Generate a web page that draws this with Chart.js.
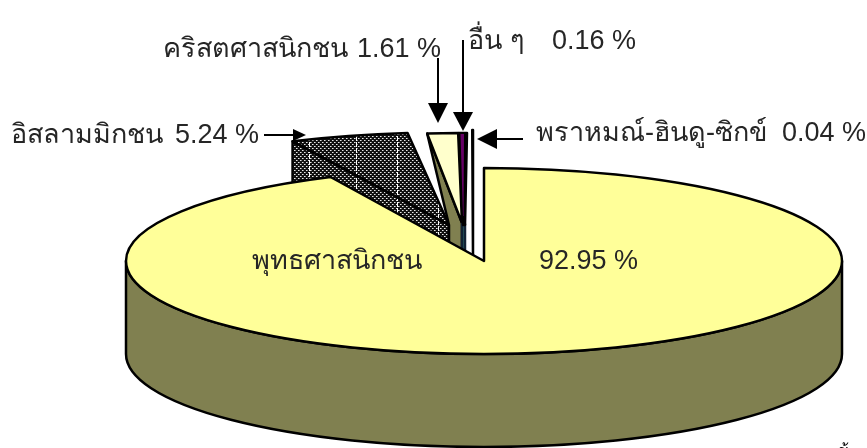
<!DOCTYPE html>
<html><head><meta charset="utf-8">
<style>html,body{margin:0;padding:0;background:#fff}#w{position:relative;width:867px;height:448px}</style>
<script src="https://cdn.jsdelivr.net/npm/chart.js@4"></script></head>
<body><div id="w"><canvas id="c"></canvas></div>
<script>
// data
const categories = ['พุทธศาสนิกชน','อิสลามมิกชน','คริสตศาสนิกชน','อื่น ๆ','พราหมณ์-ฮินดู-ซิกข์'];
const shares = [92.95, 5.24, 1.61, 0.16, 0.04];
const valueLabels = ['92.95 %','5.24 %','1.61 %','0.16 %','0.04 %'];
// styling of the slices
const topColors  = ['#FFFF99','#000000','#FFFFCC','#660066','#FFFFFF'];
const wallColors = ['#808050','#000000','#808050','#2F6F6F','#FFFFFF'];
const BASE = 185.75;
const shiftX = [0,-35,-22,-21,-11];
const shiftY = [0,-36,-38,-37,-3];
const radiusX = [358,365,307,307,300];
const radiusY = [93,92.6,90,91,128];
const DEPTH = 93;

function dotPattern(ctx){
  const t=document.createElement('canvas');t.width=4;t.height=4;
  const g=t.getContext('2d');g.fillStyle='#111';g.fillRect(0,0,4,4);
  g.fillStyle='#e8e8e8';g.fillRect(0,0,1,1);g.fillRect(2,2,1,1);
  g.fillStyle='#8a8a8a';g.fillRect(1,0,1,1);g.fillRect(3,2,1,1);
  return ctx.createPattern(t,'repeat');
}

class Pie3D extends Chart.PieController {
  geom(i){
    const a=this.getMeta().data[i], k=a.outerRadius/BASE;
    const gx=a.x+shiftX[i], gy=a.y+shiftY[i], rx=radiusX[i]*k, ry=radiusY[i]*k;
    const pt=t=>[gx+rx*Math.cos(t),gy+ry*Math.sin(t)];
    return {a,gx,gy,rx,ry,s:a.startAngle,e:a.endAngle,ps:pt(a.startAngle),pe:pt(a.endAngle)};
  }
  draw(){
    const ctx=this.chart.ctx, lw=this.getMeta().data[0].options.borderWidth;
    const stroke=(c)=>{ctx.strokeStyle=c||'#000';ctx.lineWidth=lw;ctx.lineJoin='round';ctx.stroke();};
    const poly=(pts)=>{ctx.beginPath();pts.forEach((p,i)=>i?ctx.lineTo(p[0],p[1]):ctx.moveTo(p[0],p[1]));ctx.closePath();};
    const top=(g)=>{ctx.beginPath();ctx.moveTo(g.gx,g.gy);ctx.ellipse(g.gx,g.gy,g.rx,g.ry,0,g.s,g.e);ctx.closePath();};
    const G=[0,1,2,3,4].map(i=>this.geom(i));
    const pat=dotPattern(ctx);

    // slice 2 (dotted)
    const g1=G[1];
    const wall1=[g1.ps,[g1.gx,g1.gy],[g1.gx,g1.gy+DEPTH],[g1.ps[0],g1.ps[1]+DEPTH]];
    ctx.save();
    poly(wall1);ctx.fillStyle=pat;ctx.fill();
    top(g1);ctx.fillStyle=pat;ctx.fill();
    ctx.restore();
    ctx.save();
    ctx.beginPath();
    wall1.forEach((p,i)=>i?ctx.lineTo(p[0],p[1]):ctx.moveTo(p[0],p[1]));ctx.closePath();
    ctx.moveTo(g1.gx,g1.gy);ctx.ellipse(g1.gx,g1.gy,g1.rx,g1.ry,0,g1.s,g1.e);ctx.closePath();
    ctx.clip('nonzero');
    ctx.strokeStyle='#fff';ctx.lineWidth=1;ctx.setLineDash([5,1]);
    const seams=[-0.488,-0.357,-0.243,-0.128];
    seams.forEach(f=>{const x=Math.round(g1.a.x+358*f)+.5;ctx.beginPath();ctx.moveTo(x,100);ctx.lineTo(x,300);ctx.stroke();});
    ctx.restore();
    poly(wall1);stroke();
    top(g1);stroke();

    // slice 3
    const g2=G[2];
    poly([g2.ps,[g2.gx,g2.gy],[g2.gx,g2.gy+DEPTH],[g1.gx,g1.gy+DEPTH],[g1.gx,g1.gy]]);
    ctx.fillStyle=wallColors[2];ctx.fill();stroke();
    top(g2);ctx.fillStyle=topColors[2];ctx.fill();stroke();

    // slice 4
    const g3=G[3];
    poly([[g3.gx-1,g3.gy],[g3.gx+2,g3.gy],[g3.gx+2,g3.gy+DEPTH],[g3.gx-1,g3.gy+DEPTH]]);
    ctx.fillStyle=wallColors[3];ctx.fill();stroke('#123');
    poly([[g3.gx-4,g3.gy-91],[g3.gx+4,g3.gy-91],[g3.gx+2,g3.gy+1],[g3.gx,g3.gy+1]]);
    ctx.fillStyle='#000';ctx.fill();stroke();
    poly([[g3.gx-2.5,g3.gy-90],[g3.gx+1,g3.gy-90],[g3.gx+.5,g3.gy-8],[g3.gx,g3.gy-8]]);
    ctx.fillStyle=topColors[3];ctx.fill();

    // slice 5
    const g4=G[4];
    top(g4);ctx.fillStyle=topColors[4];ctx.fill();stroke();

    // main slice wall + top
    const g0=G[0];
    ctx.beginPath();
    ctx.ellipse(g0.gx,g0.gy,g0.rx,g0.ry,0,0,Math.PI);
    ctx.ellipse(g0.gx,g0.gy+DEPTH,g0.rx,g0.ry,0,Math.PI,0,true);
    ctx.closePath();ctx.fillStyle=wallColors[0];ctx.fill();stroke();
    top(g0);ctx.fillStyle=topColors[0];ctx.fill();stroke();
  }
}
Pie3D.id='pie3d';
Pie3D.defaults=Chart.PieController.defaults;
Chart.register(Pie3D);

const THAI='"Liberation Sans","Noto Sans",sans-serif';
const annotations={id:'annotations',afterDraw(chart){
  const c=chart.ctx;c.save();
  c.fillStyle='#262626';c.textBaseline='alphabetic';c.textAlign='left';
  c.font='27px '+THAI;
  const T=(s,x,y)=>c.fillText(s,x,y);
  T(categories[2],163,57);T(valueLabels[2],357,57);
  T(categories[3],468,49);T(valueLabels[3],552,49);
  T(categories[1],11,143);T(valueLabels[1],175,143);
  T(categories[4],536,141);T(valueLabels[4],782,141);
  T(categories[0],252,269);T(valueLabels[0],539,269);
  c.font='16px '+THAI;c.fillStyle='#000';T('ข้',838,456);
  const arrow=(x1,y1,x2,y2,hl,hw)=>{
    const a=Math.atan2(y2-y1,x2-x1),cs=Math.cos(a),sn=Math.sin(a);
    c.strokeStyle='#000';c.lineWidth=2;c.beginPath();c.moveTo(x1,y1);c.lineTo(x2-cs*hl,y2-sn*hl);c.stroke();
    c.fillStyle='#000';c.beginPath();c.moveTo(x2,y2);
    c.lineTo(x2-cs*hl-sn*hw,y2-sn*hl+cs*hw);c.lineTo(x2-cs*hl+sn*hw,y2-sn*hl-cs*hw);c.closePath();c.fill();
  };
  arrow(264,135,306,135,13,6);
  arrow(438,58,438,123,20,10);
  arrow(463,40,463,131,19,10);
  arrow(523,139,477,139,20,10);
  c.restore();
}};

new Chart(document.getElementById('c'),{
  type:'pie3d',
  data:{labels:categories,datasets:[{data:shares,backgroundColor:topColors,borderColor:'#000',borderWidth:2.5}]},
  options:{responsive:true,maintainAspectRatio:false,animation:false,
    layout:{padding:{left:101,top:74,right:0,bottom:0}},
    plugins:{legend:{display:false},tooltip:{enabled:false},title:{display:false}}},
  plugins:[annotations]
});
</script>
</body></html>
